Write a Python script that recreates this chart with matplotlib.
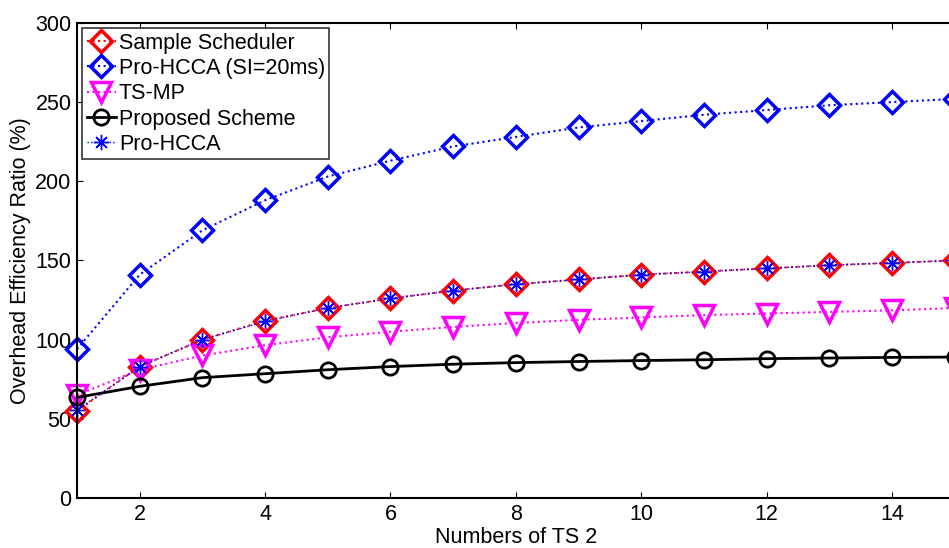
import matplotlib

matplotlib.use("Agg")
import matplotlib.pyplot as plt

plt.rcParams["font.family"] = ["Liberation Sans", "DejaVu Sans"]

ts_count = [1, 2, 3, 4, 5, 6, 7, 8, 9, 10, 11, 12, 13, 14, 15]
sample_scheduler = [55, 83, 100, 112, 120, 126, 131, 135, 138, 141, 143, 145, 147, 148.5, 150]
pro_hcca_si20 = [94, 141, 169, 188, 203, 213, 222, 228, 234, 238, 242, 245, 248, 250, 252]
ts_mp = [65, 81, 90, 96.5, 101.5, 105, 108, 110.5, 112.5, 114, 115.5, 116.5, 117.5, 118.5, 120]
proposed = [63.5, 70.5, 76, 78.5, 81, 83, 84.5, 85.5, 86.2, 86.8, 87.3, 88, 88.4, 88.8, 89]
pro_hcca = [55.5, 83, 100, 111.5, 120, 126, 131, 135, 138, 141, 143, 145, 147, 148.5, 150]

fig = plt.figure(figsize=(9.49, 5.48), dpi=100)
ax = fig.add_axes([0.0811, 0.0912, 0.925, 0.867])

common = dict(markerfacecolor="none", clip_on=False)
ax.plot(ts_count, sample_scheduler, ":", color="red", linewidth=1.5, marker="D", markersize=11,
        markeredgecolor="red", markeredgewidth=2.5, label="Sample Scheduler", **common)
ax.plot(ts_count, pro_hcca_si20, ":", color="blue", linewidth=1.5, marker="D", markersize=11,
        markeredgecolor="blue", markeredgewidth=2.5, label="Pro-HCCA (SI=20ms)", **common)
ax.plot(ts_count, ts_mp, ":", color="magenta", linewidth=1.5, marker="v", markersize=14,
        markeredgecolor="magenta", markeredgewidth=2.5, label="TS-MP", **common)
ax.plot(ts_count, proposed, "-", color="black", linewidth=2, marker="o", markersize=11,
        markeredgecolor="black", markeredgewidth=2, label="Proposed Scheme", **common)
ax.plot(ts_count, pro_hcca, ":", color="blue", linewidth=1, marker=(8, 2, 0), markersize=11,
        markeredgecolor="blue", markeredgewidth=1, label="Pro-HCCA", clip_on=False)

ax.set_xlim(1, 15)
ax.set_ylim(0, 300)
ax.set_xticks([2, 4, 6, 8, 10, 12, 14])
ax.set_yticks([0, 50, 100, 150, 200, 250, 300])
ax.tick_params(direction="in", top=True, right=True, labelsize=15.5, length=4, width=0.8, pad=4)
for spine in ax.spines.values():
    spine.set_linewidth(1.5)
ax.set_xlabel("Numbers of TS 2", fontsize=15.5, labelpad=2)
ax.set_ylabel("Overhead Efficiency Ratio (%)", fontsize=15.5, labelpad=3)

leg = ax.legend(loc="upper left", fontsize=15.5, frameon=True, fancybox=False, edgecolor="black",
                handlelength=1.35, handletextpad=0.15, borderaxespad=0.25, borderpad=0.2,
                labelspacing=0.2)
leg.get_frame().set_linewidth(1.2)

fig.savefig("out.png", dpi=100)
